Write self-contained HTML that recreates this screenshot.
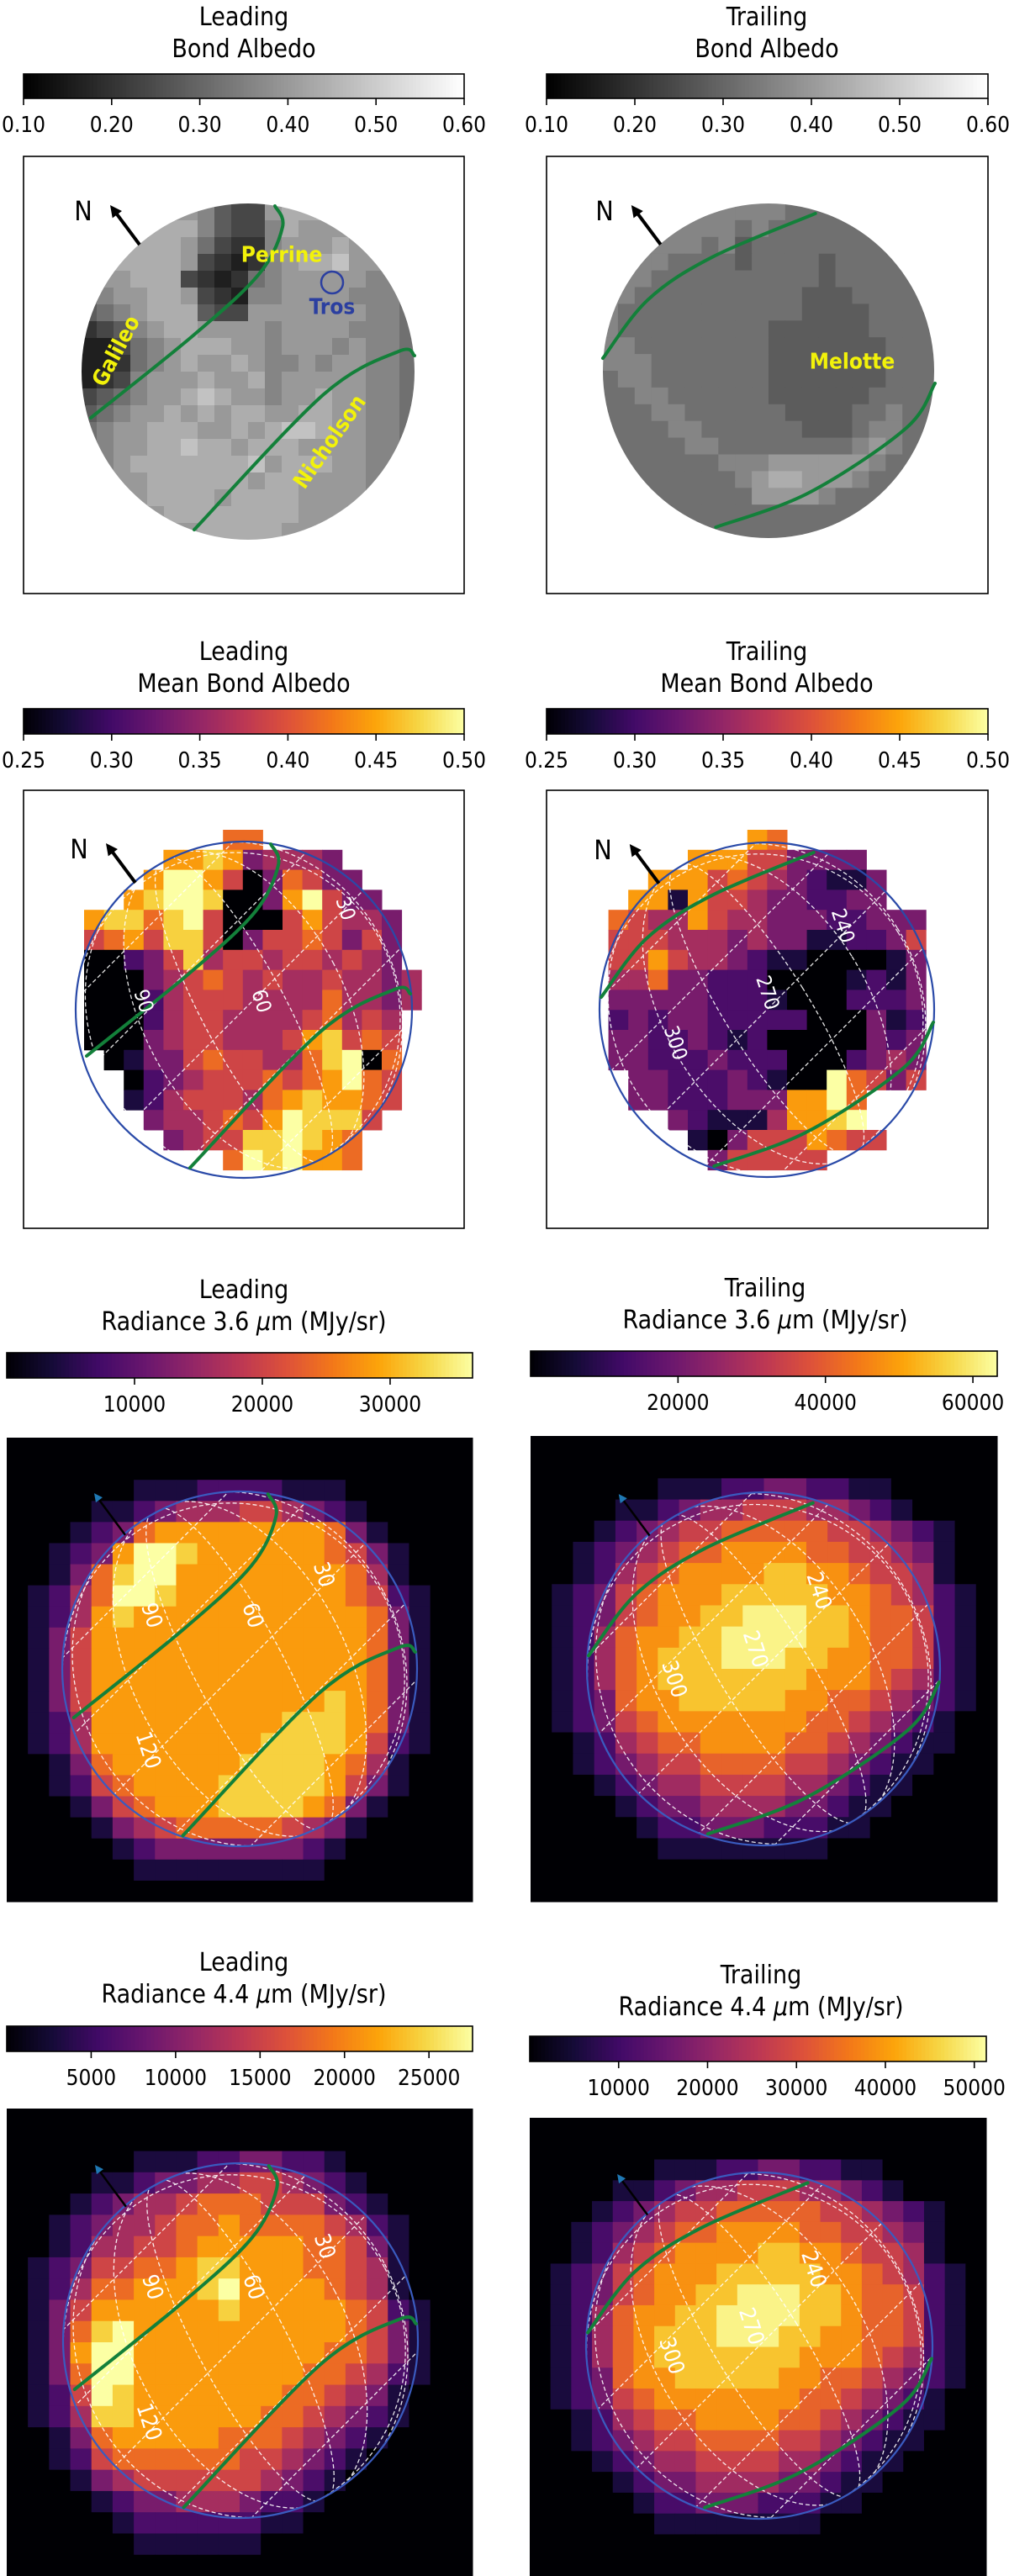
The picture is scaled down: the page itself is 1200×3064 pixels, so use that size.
<!DOCTYPE html>
<html><head><meta charset="utf-8">
<style>
html,body{margin:0;padding:0;background:#fff;}
svg{display:block;}
text{font-family:"DejaVu Sans Condensed","DejaVu Sans","Liberation Sans",sans-serif;}
</style></head>
<body>
<svg id="fig" xmlns="http://www.w3.org/2000/svg" width="1200" height="3064" viewBox="0 0 1200 3064"></svg>
<script>
// ---------- DATA ----------
const leadAlbedoGrid = [
"55666665322677766555","66777775322576666655","67777764211566676655","66777762101567786655",
"56677721014566666554","45667762105566665554","34567773226666666554","12356776666566665554",
"00245677766566656554","00145676676556566554","01256667667566666554","23456678766566766554",
"34566767677667766554","45667776676788766554","45667787767776666554","55677777778677766554",
"55667777776776666554","55667777677776666554","55666777777776665554","55666667777766655554"];
const trailAlbedoGrid = [
"44445555555444444444","44555555454444444444","45555545344444444444","45554444344443444444",
"45544444444443444444","55444444444433344444","54444444444433334444","54444444443333334444",
"55444444443333333444","55544444443333333444","45544444443333333444","44554444443333334444",
"44455444444333344544","44445544444433345544","44444554444444456544","44444445556666665444",
"44444444567766654444","44444444466665444444","44444444444444444444","44444444444444444444"];
const albedoTicks = [0.10,0.20,0.30,0.40,0.50,0.60];
const albedoRange = [0.10,0.60];

const leadMeanGrid = [
".......66........","....778734443....","...79975036533...","..7899800379533..",
"7886895000575443.","5675885035565353.","0023584554554543.","00034565454454434",
"00024555444464434","0002455444456454.","0003455444578565.",".013356554468906.",
"..02345556567965.","..12455546787765.","...344565798885..","....3455889876...",
".......6989776..."];
const trailMeanGrid = [
"........76.......",".....777553333...","...777565432113..","..7717554332233..",
".6544754433322333",".5554443433112235",".5575443211000013",".4463322200001213",
".3333322210002223",".2323322222000312",".3322321200000323",".3322232220002343",
"..332223210096535","..332223337796...","....3211147789...",".....1035557655..",
"......355555....."];
const meanTicks = [0.25,0.30,0.35,0.40,0.45,0.50];
const meanRange = [0.25,0.50];

const lead36Grid = [
"0000000000000000000000","0000000000000000000000","0000001112222111000000","0000112344455432100000",
"0001236777777776310000","0012379987777776531000","0013689977777777641000","0124699877777777652100",
"0124787777777777763100","0135777777777777763100","0135777777777777763100","0135777777777777763100",
"0135777777777778763100","0124777777777888763100","0124777777778888752100","0013677777788887641000",
"0012567777888887531000","0001356777888876310000","0000134566666543100000","0000012333333321000000",
"0000001111111110000000","0000000000000000000000"];
const trail36Grid = [
"0000000000000000000000","0000000000000000000000","0000001112233221100000","0000112344555443210000",
"0001234556666655432100","0012345667777665543100","0012456777788776554100","0123567778888877654210",
"0123567788999887665210","0124677889999887665210","0124678889998877665210","0124678888888777654210",
"0123677888887766543210","0123567777777665432100","0012456677776654321100","0012345566665543211000",
"0001234455554432110000","0000123344443321100000","0000012233322211000000","0000001111111100000000",
"0000000000000000000000","0000000000000000000000"];
const lead36Ticks = [10000,20000,30000];
const lead36Max = 36450;
const trail36Ticks = [20000,40000,60000];
const trail36Max = 63300;

const lead44Grid = [
"0000000000000000000000","0000000000000000000000","0000001112233221000000","0000112334455432100000",
"0001234456665553210000","0012344566766665421000","0012445567777766531000","0123556678877766541000",
"0124667778977776541000","0135777777877777652100","0136897777777777653100","0137997777777776653100",
"0136997777777766542100","0125987777777665431000","0124887777776654321000","0013677777666543210000",
"0012566666655432100000","0001345555554321000000","0000123344432210000000","0000012222221100000000",
"0000001111110000000000","0000000000000000000000"];
const trail44Grid = [
"0000000000000000000000","0000000000000000000000","0000001112233221100000","0000112344555443210000",
"0001234556666655432100","0012345667777665543100","0012456777788776554100","0123567778888877654210",
"0123567788999887665210","0124677889999887665210","0124678889998877665210","0124678888888777654210",
"0123677888887766543210","0123567777777665432100","0012456677776654321100","0012345566665543211000",
"0001234455554432110000","0000123344443321100000","0000012233322211000000","0000001111111100000000",
"0000000000000000000000","0000000000000000000000"];
const lead44Ticks = [5000,10000,15000,20000,25000];
const lead44Max = 27580;
const trail44Ticks = [10000,20000,30000,40000,50000];
const trail44Max = 51350;

const leadGreen1 = [[0.16,-0.985],[0.205,-0.86],[0.065,-0.58],[-0.32,-0.22],[-0.935,0.275]];
const leadGreen2 = [[0.99,-0.095],[0.895,-0.12],[0.45,0.135],[-0.32,0.94]];
const trailGreen1 = [[-0.99,-0.075],[-0.72,-0.425],[-0.335,-0.68],[0.28,-0.94]];
const trailGreen2 = [[0.995,0.075],[0.82,0.345],[0.24,0.73],[-0.315,0.935]];
const leadLonLabels = ["30","60","90","120"];
const leadLonPos = [[0.47,-0.53],[0.07,-0.30],[-0.5,-0.3],[-0.52,0.46]];
const trailLonLabels = ["240","270","300"];
const trailLonPos = [[0.31,-0.44],[-0.05,-0.11],[-0.51,0.06]];

// ---------- DRAWING ----------
const NS='http://www.w3.org/2000/svg';
const svg=document.getElementById('fig');
function el(tag,attrs,parent){const e=document.createElementNS(NS,tag);for(const k in attrs)e.setAttribute(k,attrs[k]);(parent||svg).appendChild(e);return e;}
const INF=['#000004','#160b39','#420a68','#6a176e','#932667','#bc3754','#dd513a','#f37819','#fca50a','#f6d746','#fcffa4'];
function hex(c){return [parseInt(c.substr(1,2),16),parseInt(c.substr(3,2),16),parseInt(c.substr(5,2),16)];}
function inferno(t){t=Math.max(0,Math.min(1,t));const p=t*10,i=Math.min(9,Math.floor(p)),f=p-i;const a=hex(INF[i]),b=hex(INF[i+1]);return 'rgb('+a.map((v,k)=>Math.round(v+(b[k]-v)*f)).join(',')+')';}
function gray(t){t=Math.max(0,Math.min(1,t));const v=Math.round(255*t);return 'rgb('+v+','+v+','+v+')';}
let clipId=0;

function title(cx,y1,l1,l2,name){
  const t=el('text',{x:cx,y:y1,'text-anchor':'middle','font-size':30,fill:'#000'});
  
  
  const s1=el('tspan',{x:cx,dy:0},t);s1.textContent=l1;
  const s2=el('tspan',{x:cx,dy:38},t);s2.innerHTML=l2;
}
function colorbar(x0,x1,y0,y1,cfn,ticks,vmin,vmax,fmt,name){
  const g=el('g',{});
  
  
  const n=120,w=(x1-x0)/n;
  for(let i=0;i<n;i++){el('rect',{x:x0+i*w,y:y0,width:w+0.6,height:y1-y0,fill:cfn((i+0.5)/n)},g);}
  el('rect',{x:x0,y:y0,width:x1-x0,height:y1-y0,fill:'none',stroke:'#000','stroke-width':1.6},g);
  ticks.forEach(v=>{
    const x=x0+(v-vmin)/(vmax-vmin)*(x1-x0);
    el('line',{x1:x,x2:x,y1:y1,y2:y1+8,stroke:'#000','stroke-width':1.6},g);
    const t=el('text',{x:x,y:y1+40,'text-anchor':'middle','font-size':26,fill:'#000'},g);
    
    
    t.textContent=fmt(v);
  });
}
function grid(parent,rows,x0,y0,cw,ch,cfn,name){
  const g=el('g',{},parent);
  
  
  rows.forEach((row,r)=>{for(let c=0;c<row.length;c++){const ch_=row[c];if(ch_==='.')continue;
    const v=parseInt(ch_,16);
    el('rect',{x:x0+c*cw,y:y0+r*ch,width:cw+0.5,height:ch+0.5,fill:cfn(v/9)},g);}});
  return g;
}
function smooth(pts){
  let d='M'+pts[0][0]+','+pts[0][1];
  for(let i=0;i<pts.length-1;i++){
    const p0=pts[Math.max(0,i-1)],p1=pts[i],p2=pts[i+1],p3=pts[Math.min(pts.length-1,i+2)];
    const c1=[p1[0]+(p2[0]-p0[0])/6,p1[1]+(p2[1]-p0[1])/6],c2=[p2[0]-(p3[0]-p1[0])/6,p2[1]-(p3[1]-p1[1])/6];
    d+=' C'+c1.join(',')+' '+c2.join(',')+' '+p2.join(',');
  }
  return d;
}
function green(parent,cx,cy,r,norm,name){
  const p=el('path',{d:smooth(norm.map(q=>[cx+q[0]*r,cy+q[1]*r])),fill:'none',stroke:'#13803a','stroke-width':4,'stroke-linecap':'round'},parent);
  
  
}
function graticule(parent,cx,cy,r,leading){
  const id='gc'+(clipId++);
  const cp=el('clipPath',{id:id},parent);el('circle',{cx:cx,cy:cy,r:r},cp);
  const g=el('g',{'clip-path':'url(#'+id+')',fill:'none',stroke:'#fff','stroke-width':1.3,'stroke-dasharray':'5,3',opacity:0.9},parent);
  
  
  const rot=leading?-28:-32;
  [0.25,0.6,0.92].forEach(f=>{el('ellipse',{cx:cx,cy:cy,rx:r*f,ry:r*1.02,transform:'rotate('+rot+' '+cx+' '+cy+')'},g);});
  const ang=-45*Math.PI/180,dx=Math.cos(ang),dy=Math.sin(ang),nx=-dy,ny=dx;
  [-0.75,-0.4,0,0.4,0.75].forEach(o=>{
    const px=cx+nx*o*r,py=cy+ny*o*r;
    el('line',{x1:px-dx*r*1.2,y1:py-dy*r*1.2,x2:px+dx*r*1.2,y2:py+dy*r*1.2},g);
  });
  el('ellipse',{cx:cx-r*0.05,cy:cy+r*0.02,rx:r*0.96,ry:r*0.98,transform:'rotate('+rot+' '+cx+' '+cy+')'},g);
}
function lonLabels(parent,cx,cy,r,labels,pos,fs){
  labels.forEach((s,i)=>{
    const x=cx+pos[i][0]*r,y=cy+pos[i][1]*r;
    const t=el('text',{x:x,y:y,'text-anchor':'middle','dominant-baseline':'middle','font-size':fs,fill:'#fff',transform:'rotate(72 '+x+' '+y+')'},parent);
    
    
    t.textContent=s;
  });
}
function arrow(parent,cx,cy,r,withN,thin){
  const x1=cx-0.645*r,y1=cy-0.755*r,x2=cx-0.82*r,y2=cy-0.99*r;
  const g=el('g',{},parent);
  
  
  el('line',{x1:x1,y1:y1,x2:x2+ (x1-x2)*0.15,y2:y2+(y1-y2)*0.15,stroke:'#000','stroke-width':thin?2.5:4},g);
  const ux=(x2-x1),uy=(y2-y1),L=Math.hypot(ux,uy),ax=ux/L,ay=uy/L;
  const hs=thin?10:14;
  el('polygon',{points:[x2,y2,x2-ax*hs-ay*hs*0.5,y2-ay*hs+ax*hs*0.5,x2-ax*hs+ay*hs*0.5,y2-ay*hs-ax*hs*0.5].join(','),fill:thin?'#1f78b4':'#000'},g);
  if(withN){const t=el('text',{x:cx-0.98*r,y:cy-0.9*r,'text-anchor':'middle','font-size':32,fill:'#000'},g);t.textContent='N';}
}
function label(parent,x,y,s,fill,rot,name,fs){
  const t=el('text',{x:x,y:y,'text-anchor':'middle','dominant-baseline':'middle','font-size':fs||26,'font-weight':'bold',fill:fill,transform:'rotate('+rot+' '+x+' '+y+')'},parent);
  
  
  t.textContent=s;
}

function row1(){
  const specs=[{cx:290,x0:28,x1:552,disk:[295,442,200],grid:leadAlbedoGrid,lead:true,n:'leading-bond-albedo'},
               {cx:912,x0:650,x1:1175,disk:[914,441,199],grid:trailAlbedoGrid,lead:false,n:'trailing-bond-albedo'}];
  specs.forEach(s=>{
    title(s.cx,30,s.lead?'Leading':'Trailing','Bond Albedo',s.n);
    colorbar(s.x0,s.x1,88,117,gray,albedoTicks,albedoRange[0],albedoRange[1],v=>v.toFixed(2),s.n);
    const p=el('g',{});
    el('rect',{x:s.x0,y:186,width:s.x1-s.x0,height:520,fill:'#fff',stroke:'#000','stroke-width':1.6},p);
    const [cx,cy,r]=s.disk;const id='c'+(clipId++);
    const cp=el('clipPath',{id:id},p);el('ellipse',{cx:cx,cy:cy,rx:r*0.99,ry:r},cp);
    const gg=el('g',{'clip-path':'url(#'+id+')'},p);
    grid(gg,s.grid,cx-r,cy-r,2*r/20,2*r/20,t=>gray(0.12+t*0.72),s.n+'-map');
    green(p,cx,cy,r,s.lead?leadGreen1:trailGreen1,'green-contour');
    green(p,cx,cy,r,s.lead?leadGreen2:trailGreen2,'green-contour');
    arrow(p,cx,cy,r,true,false);
    if(s.lead){
      label(p,cx+0.2*r,cy-0.69*r,'Perrine','#f2f20a',0,'perrine-label');
      el('circle',{cx:cx+0.5*r,cy:cy-0.53*r,r:13,fill:'none',stroke:'#2b3fa0','stroke-width':2.5},p);
      label(p,cx+0.5*r,cy-0.38*r,'Tros','#2b3fa0',0,'tros-label');
      label(p,cx-0.78*r,cy-0.12*r,'Galileo','#f2f20a',-62,'galileo-label');
      label(p,cx+0.49*r,cy+0.42*r,'Nicholson','#f2f20a',-55,'nicholson-label');
    } else {
      label(p,cx+0.5*r,cy-0.05*r,'Melotte','#f2f20a',0,'melotte-label');
    }
  });
}
function row2(){
  const specs=[{cx:290,x0:28,x1:552,disk:[290,1201,200],grid:leadMeanGrid,gx:100,lead:true,n:'leading-mean-albedo'},
               {cx:912,x0:650,x1:1175,disk:[912,1201,199],grid:trailMeanGrid,gx:700,lead:false,n:'trailing-mean-albedo'}];
  specs.forEach(s=>{
    title(s.cx,785,s.lead?'Leading':'Trailing','Mean Bond Albedo',s.n);
    colorbar(s.x0,s.x1,843,873,inferno,meanTicks,meanRange[0],meanRange[1],v=>v.toFixed(2),s.n);
    const p=el('g',{});
    el('rect',{x:s.x0,y:940,width:s.x1-s.x0,height:521,fill:'#fff',stroke:'#000','stroke-width':1.6},p);
    const [cx,cy,r]=s.disk;
    grid(p,s.grid,s.gx,987,23.6,23.8,inferno,s.n+'-heatmap');
    graticule(p,cx,cy,r,s.lead);
    el('circle',{cx:cx,cy:cy,r:r,fill:'none',stroke:'#2a4aa8','stroke-width':2.2},p);
    green(p,cx,cy,r,s.lead?leadGreen1:trailGreen1,'green-contour');
    green(p,cx,cy,r,s.lead?leadGreen2:trailGreen2,'green-contour');
    if(s.lead) lonLabels(p,cx,cy,r,['30','60','90'],[[0.6,-0.6],[0.1,-0.05],[-0.6,-0.05]],24);
    else lonLabels(p,cx,cy,r,trailLonLabels,[[0.45,-0.5],[0.0,-0.1],[-0.55,0.2]],24);
    arrow(p,cx,cy,r,true,false);
  });
}
function radRow(spec){
  spec.forEach(s=>{
    title(s.cx,s.ty,s.lead?'Leading':'Trailing',s.sub,s.n);
    colorbar(s.x0,s.x1,s.cby,s.cby+30,inferno,s.ticks,0,s.max,v=>String(v),s.n);
    const p=el('g',{});
    el('rect',{x:s.x0,y:s.by,width:s.x1-s.x0,height:s.bh,fill:'#000004'},p);
    const cw=(s.x1-s.x0)/22,ch=s.bh/22;
    grid(p,s.grid,s.x0,s.by,cw,ch,t=>inferno(t*s.scale),s.n+'-heatmap');
    const [cx,cy,r]=s.disk;
    graticule(p,cx,cy,r,s.lead);
    el('circle',{cx:cx,cy:cy,r:r,fill:'none',stroke:'#3a5bbf','stroke-width':2.2},p);
    green(p,cx,cy,r,s.lead?leadGreen1:trailGreen1,'green-contour');
    green(p,cx,cy,r,s.lead?leadGreen2:trailGreen2,'green-contour');
    lonLabels(p,cx,cy,r,s.lead?leadLonLabels:trailLonLabels,s.lead?leadLonPos:trailLonPos,26);
    arrow(p,cx,cy,r,false,true);
  });
}
row1();row2();
radRow([
 {cx:290,ty:1544,sub:'Radiance 3.6 <tspan font-style="italic">μ</tspan>m (MJy/sr)',x0:8,x1:562,cby:1609,ticks:lead36Ticks,max:lead36Max,by:1710,bh:552,grid:lead36Grid,disk:[285,1985,211],lead:true,scale:1.0,n:'leading-radiance-36'},
 {cx:910,ty:1542,sub:'Radiance 3.6 <tspan font-style="italic">μ</tspan>m (MJy/sr)',x0:631,x1:1186,cby:1607,ticks:trail36Ticks,max:trail36Max,by:1708,bh:554,grid:trail36Grid,disk:[908,1985,210],lead:false,scale:0.97,n:'trailing-radiance-36'}
]);
radRow([
 {cx:290,ty:2344,sub:'Radiance 4.4 <tspan font-style="italic">μ</tspan>m (MJy/sr)',x0:8,x1:562,cby:2410,ticks:lead44Ticks,max:lead44Max,by:2508,bh:556,grid:lead44Grid,disk:[286,2784,211],lead:true,scale:1.0,n:'leading-radiance-44'},
 {cx:905,ty:2359,sub:'Radiance 4.4 <tspan font-style="italic">μ</tspan>m (MJy/sr)',x0:630,x1:1173,cby:2422,ticks:trail44Ticks,max:trail44Max,by:2519,bh:545,grid:trail44Grid,disk:[903,2790,206],lead:false,scale:0.97,n:'trailing-radiance-44'}
]);
</script>
</body></html>
